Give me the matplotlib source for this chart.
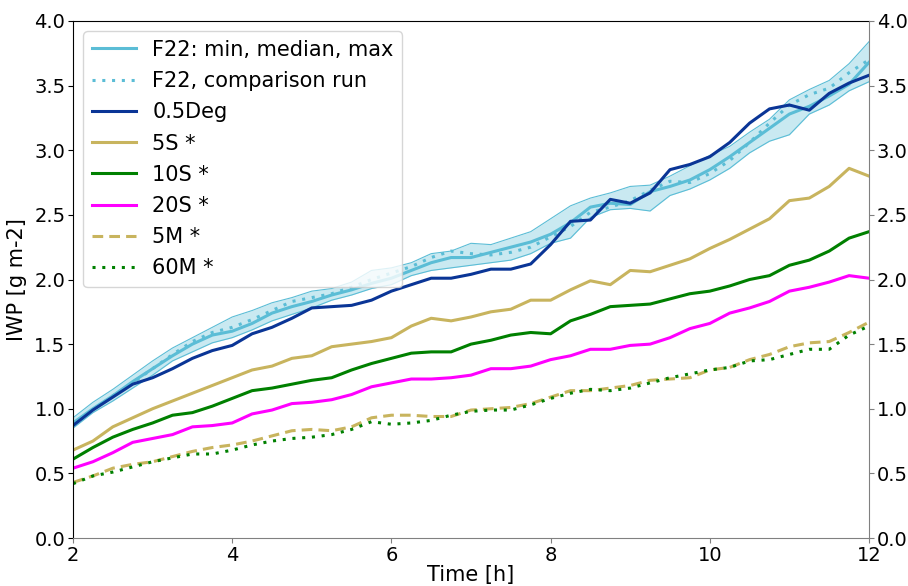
import numpy as np
import matplotlib
matplotlib.use("Agg")
import matplotlib.pyplot as plt

time_h = [2.0, 2.25, 2.5, 2.75, 3.0, 3.25, 3.5, 3.75, 4.0, 4.25, 4.5, 4.75, 5.0, 5.25,
          5.5, 5.75, 6.0, 6.25, 6.5, 6.75, 7.0, 7.25, 7.5, 7.75, 8.0, 8.25, 8.5, 8.75,
          9.0, 9.25, 9.5, 9.75, 10.0, 10.25, 10.5, 10.75, 11.0, 11.25, 11.5, 11.75, 12.0]

f22_median = [0.89, 1.00, 1.10, 1.21, 1.31, 1.41, 1.50, 1.57, 1.60, 1.66, 1.74, 1.79, 1.83, 1.88,
              1.92, 1.97, 2.01, 2.07, 2.13, 2.17, 2.17, 2.21, 2.25, 2.29, 2.35, 2.44, 2.56, 2.59,
              2.58, 2.68, 2.72, 2.77, 2.85, 2.95, 3.06, 3.17, 3.28, 3.34, 3.42, 3.51, 3.68]
f22_max = [0.93, 1.05, 1.15, 1.26, 1.37, 1.47, 1.55, 1.63, 1.71, 1.76, 1.82, 1.86, 1.91, 1.93,
           1.98, 2.07, 2.09, 2.13, 2.20, 2.22, 2.28, 2.27, 2.32, 2.37, 2.47, 2.57, 2.63, 2.67,
           2.72, 2.73, 2.80, 2.88, 2.96, 3.03, 3.14, 3.24, 3.39, 3.47, 3.54, 3.67, 3.84]
f22_min = [0.85, 0.97, 1.06, 1.16, 1.26, 1.37, 1.44, 1.51, 1.55, 1.61, 1.68, 1.73, 1.78, 1.84,
           1.88, 1.93, 1.96, 2.03, 2.07, 2.09, 2.11, 2.13, 2.15, 2.20, 2.28, 2.32, 2.48, 2.54,
           2.55, 2.53, 2.65, 2.70, 2.77, 2.86, 2.98, 3.07, 3.12, 3.28, 3.35, 3.46, 3.53]
f22_comparison = [0.87, 0.99, 1.10, 1.20, 1.31, 1.42, 1.52, 1.59, 1.63, 1.69, 1.76, 1.83, 1.86, 1.89,
                  1.94, 2.00, 2.05, 2.10, 2.17, 2.22, 2.20, 2.19, 2.21, 2.25, 2.33, 2.41, 2.52, 2.56,
                  2.61, 2.69, 2.76, 2.75, 2.82, 2.92, 3.06, 3.21, 3.35, 3.43, 3.48, 3.60, 3.70]
deg05 = [0.87, 0.99, 1.09, 1.19, 1.24, 1.31, 1.39, 1.45, 1.49, 1.58, 1.63, 1.70, 1.78, 1.79,
         1.80, 1.84, 1.91, 1.96, 2.01, 2.01, 2.04, 2.08, 2.08, 2.12, 2.27, 2.45, 2.46, 2.62,
         2.59, 2.67, 2.85, 2.89, 2.95, 3.06, 3.21, 3.32, 3.35, 3.31, 3.44, 3.52, 3.58]
s5 = [0.68, 0.75, 0.86, 0.93, 1.00, 1.06, 1.12, 1.18, 1.24, 1.30, 1.33, 1.39, 1.41, 1.48,
      1.50, 1.52, 1.55, 1.64, 1.70, 1.68, 1.71, 1.75, 1.77, 1.84, 1.84, 1.92, 1.99, 1.96,
      2.07, 2.06, 2.11, 2.16, 2.24, 2.31, 2.39, 2.47, 2.61, 2.63, 2.72, 2.86, 2.80]
s10 = [0.61, 0.70, 0.78, 0.84, 0.89, 0.95, 0.97, 1.02, 1.08, 1.14, 1.16, 1.19, 1.22, 1.24,
       1.30, 1.35, 1.39, 1.43, 1.44, 1.44, 1.50, 1.53, 1.57, 1.59, 1.58, 1.68, 1.73, 1.79,
       1.80, 1.81, 1.85, 1.89, 1.91, 1.95, 2.00, 2.03, 2.11, 2.15, 2.22, 2.32, 2.37]
s20 = [0.54, 0.59, 0.66, 0.74, 0.77, 0.80, 0.86, 0.87, 0.89, 0.96, 0.99, 1.04, 1.05, 1.07,
       1.11, 1.17, 1.20, 1.23, 1.23, 1.24, 1.26, 1.31, 1.31, 1.33, 1.38, 1.41, 1.46, 1.46,
       1.49, 1.50, 1.55, 1.62, 1.66, 1.74, 1.78, 1.83, 1.91, 1.94, 1.98, 2.03, 2.01]
m5 = [0.43, 0.48, 0.54, 0.57, 0.59, 0.63, 0.67, 0.70, 0.72, 0.75, 0.79, 0.83, 0.84, 0.83,
      0.86, 0.93, 0.95, 0.95, 0.94, 0.94, 0.99, 1.00, 1.01, 1.04, 1.09, 1.14, 1.14, 1.16,
      1.18, 1.22, 1.23, 1.24, 1.30, 1.32, 1.38, 1.42, 1.48, 1.51, 1.52, 1.59, 1.67]
m60 = [0.42, 0.48, 0.51, 0.55, 0.59, 0.62, 0.65, 0.65, 0.68, 0.72, 0.75, 0.77, 0.78, 0.80,
       0.84, 0.90, 0.88, 0.89, 0.91, 0.95, 0.98, 0.99, 0.99, 1.03, 1.08, 1.12, 1.15, 1.14,
       1.16, 1.20, 1.24, 1.27, 1.30, 1.32, 1.37, 1.38, 1.42, 1.46, 1.46, 1.57, 1.64]

labels = ["F22: min, median, max", "F22, comparison run", "0.5Deg", "5S *", "10S *",
          "20S *", "5M *", "60M *"]
yticks = [0.0, 0.5, 1.0, 1.5, 2.0, 2.5, 3.0, 3.5, 4.0]
xticks = [2, 4, 6, 8, 10, 12]

c_f22 = "#5bbdd6"
c_deg = "#0a3596"
c_gold = "#c8b45e"
c_green = "#008000"
c_mag = "#ff00ff"

plt.rcParams["font.family"] = ["DejaVu Sans"]
plt.rcParams["font.size"] = 14

fig = plt.figure(figsize=(9.08, 5.86), dpi=100)
ax = fig.add_axes([73/908, 1-538/586, (869-73)/908, (538-21)/586])

lw = 2.2
ax.fill_between(time_h, f22_min, f22_max, color=c_f22, alpha=0.33, linewidth=0)
ax.plot(time_h, f22_min, color=c_f22, lw=0.8)
ax.plot(time_h, f22_max, color=c_f22, lw=0.8)
ax.plot(time_h, f22_median, color=c_f22, lw=lw, label=labels[0])
ax.plot(time_h, f22_comparison, color=c_f22, lw=lw, ls=(0, (1, 2.2)), label=labels[1])
ax.plot(time_h, deg05, color=c_deg, lw=lw, label=labels[2])
ax.plot(time_h, s5, color=c_gold, lw=lw, label=labels[3])
ax.plot(time_h, s10, color=c_green, lw=lw, label=labels[4])
ax.plot(time_h, s20, color=c_mag, lw=lw, label=labels[5])
ax.plot(time_h, m5, color=c_gold, lw=lw, ls=(0, (3.5, 2)), label=labels[6])
ax.plot(time_h, m60, color=c_green, lw=lw, ls=(0, (1, 2.2)), label=labels[7])

ax.set_xlim(2, 12)
ax.set_ylim(0, 4)
ax.set_xticks(xticks)
ax.set_yticks(yticks)
ax.set_xlabel("Time [h]", fontsize=15, labelpad=0)
ax.set_ylabel("IWP [g m-2]", fontsize=15, labelpad=5)
ax.spines["bottom"].set_color("gray")
ax.spines["right"].set_visible(False)
ax.tick_params(axis="x", color="gray", labelsize=14, pad=2)
ax.tick_params(axis="y", labelsize=14, pad=2)

ax2 = ax.twinx()
ax2.set_ylim(0, 4)
ax2.set_yticks(yticks)
for s in ["left", "top", "bottom"]:
    ax2.spines[s].set_visible(False)
ax2.spines["right"].set_color("gray")
ax2.tick_params(axis="y", color="gray", labelsize=14, pad=2)

ax.legend(loc="upper left", fontsize=15, handlelength=2.1, borderaxespad=0.5, labelspacing=0.54)

fig.savefig("out.png", dpi=100)
